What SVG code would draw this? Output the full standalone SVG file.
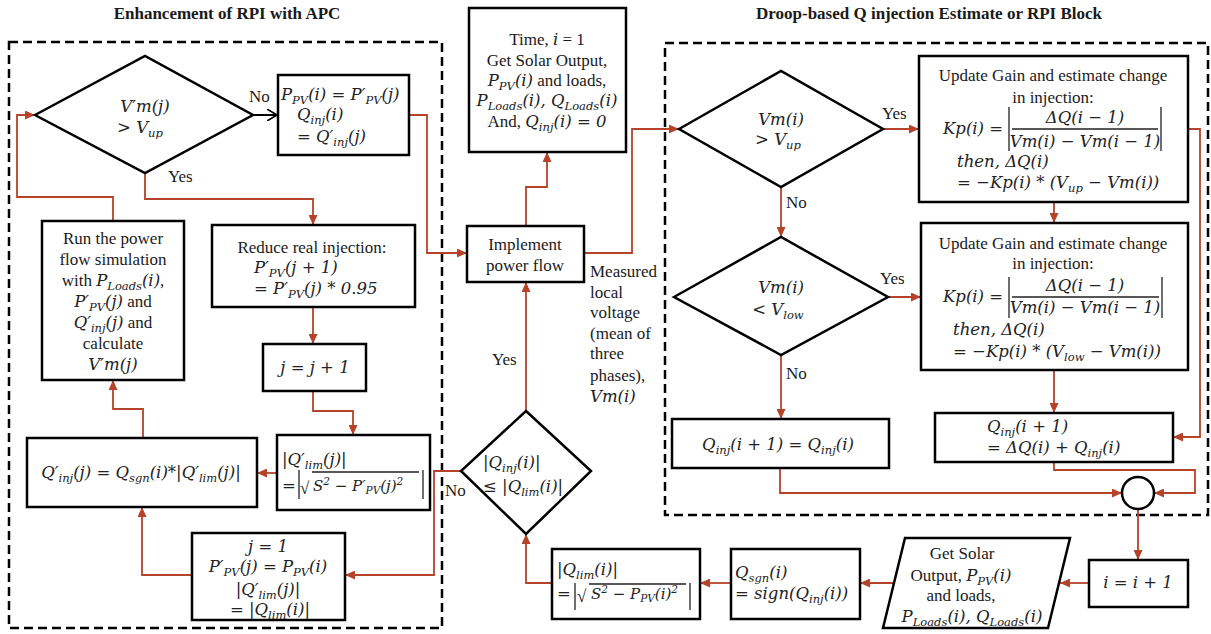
<svg xmlns="http://www.w3.org/2000/svg" width="1211" height="634" viewBox="0 0 1211 634">
<style>
  .tx { font-family: "Liberation Serif", "Times New Roman", serif; font-size: 17px; fill: #1a1a1a; }
  .tx .mt, .mt { font-family: "DejaVu Serif", "Liberation Serif", serif; font-style: italic; font-size: 16.5px; fill: #222; }
  .sb, .tx .sb { font-size: 11.5px; }
  .sm { font-size: 15px; }
  .sm .sb { font-size: 10.5px; }
  .mid { text-anchor: middle; }
  .ti { font-family: "Liberation Serif", "Times New Roman", serif; font-weight: bold; font-size: 17px; fill: #1a1a1a; text-anchor: middle; }
  .box { fill: #fff; stroke: #000; stroke-width: 2.5; }
  .grp { fill: none; stroke: #000; stroke-width: 2.5; stroke-dasharray: 9 5; }
  .ln { fill: none; stroke: #222; stroke-width: 1.3; }
  .ca { fill: none; stroke: #b5432a; stroke-width: 1.8; marker-end: url(#ah); }
</style>
<defs>
  <marker id="ah" viewBox="0 0 10 9" refX="10" refY="4.5" markerWidth="11" markerHeight="9" markerUnits="userSpaceOnUse" orient="auto">
    <path d="M0,0 L10,4.5 L0,9 z" fill="#b5432a"/>
  </marker>
  <marker id="open" viewBox="0 0 10 12" refX="10" refY="6" markerWidth="10" markerHeight="12" markerUnits="userSpaceOnUse" orient="auto">
    <path d="M0,0 L10,6 L0,12" fill="none" stroke="#000" stroke-width="1.6"/>
  </marker>
</defs>
<rect width="1211" height="634" fill="#fff"/>

<!-- block titles and dashed group frames -->
<g id="groups">
  <text class="ti" x="227" y="19">Enhancement of RPI with APC</text>
  <text class="ti" x="929" y="19">Droop-based Q injection Estimate or RPI Block</text>
  <rect class="grp" x="9" y="42" width="433" height="586"/>
  <rect class="grp" x="665" y="43" width="543" height="472"/>
</g>

<!-- connectors -->
<g id="connectors">
  <path d="M253,115 H277" fill="none" stroke="#000" stroke-width="2" marker-end="url(#open)"/>
  <path class="ca" d="M145,173 V199 H313 V225"/>
  <path class="ca" d="M409,115 H427 V253 H467"/>
  <path class="ca" d="M113,221 V197 H17 V115 H35"/>
  <path class="ca" d="M313,307 V344"/>
  <path class="ca" d="M313,391 V411 H353 V435"/>
  <path class="ca" d="M277,473 H257"/>
  <path class="ca" d="M143,438 V409 H113 V380"/>
  <path class="ca" d="M192,575 H142 V507"/>
  <path class="ca" d="M461,471 H434 V575 H345"/>
  <path class="ca" d="M526,411 V282"/>
  <path class="ca" d="M526,226 V187 H547 V152"/>
  <path class="ca" d="M584,253 H632 V129 H679"/>
  <path class="ca" d="M883,129 H919"/>
  <path class="ca" d="M781,187 V237"/>
  <path class="ca" d="M1054,202 V223"/>
  <path class="ca" d="M1188,129 H1200 V437 H1173"/>
  <path class="ca" d="M888,297 H921"/>
  <path class="ca" d="M781,355 V419"/>
  <path class="ca" d="M1054,370 V413"/>
  <path class="ca" d="M780,468 V493 H1122"/>
  <path class="ca" d="M1054,462 V470 H1195 V493 H1154"/>
  <path class="ca" d="M1138,509 V560"/>
  <path class="ca" d="M1089,583 H1060"/>
  <path class="ca" d="M894,583 H860"/>
  <path class="ca" d="M731,583 H700"/>
  <path class="ca" d="M552,583 H526 V534"/>
</g>

<!-- APC decision: V'm(j) > Vup -->
<g id="apc-check">
  <polygon class="box" points="35,115 145,56 253,115 145,173"/>
  <text class="mt mid" x="145" y="112">V′m(j)</text>
  <text class="mt mid" x="140" y="133">&gt; V<tspan class="sb" dy="3.5">up</tspan></text>
  <text class="tx" x="249" y="102">No</text>
  <text class="tx" x="168" y="182">Yes</text>
</g>

<g id="apc-accept">
  <rect class="box" x="278" y="75" width="131" height="80"/>
  <text class="mt" x="281" y="100">P<tspan class="sb" dy="3.5">PV</tspan><tspan dy="-3.5">(i) = P′</tspan><tspan class="sb" dy="3.5">PV</tspan><tspan dy="-3.5">(j)</tspan></text>
  <text class="mt" x="297" y="120">Q<tspan class="sb" dy="3.5">inj</tspan><tspan dy="-3.5">(i)</tspan></text>
  <text class="mt" x="297" y="142">= Q′<tspan class="sb" dy="3.5">inj</tspan><tspan dy="-3.5">(j)</tspan></text>
</g>

<g id="apc-run">
  <rect class="box" x="42" y="221" width="142" height="159"/>
  <text class="tx mid" x="113" y="244">Run the power</text>
  <text class="tx mid" x="113" y="265">flow simulation</text>
  <text class="tx mid" x="113" y="286">with <tspan class="mt">P</tspan><tspan class="mt sb" dy="3.5">Loads</tspan><tspan class="mt" dy="-3.5">(i)</tspan>,</text>
  <text class="tx mid" x="113" y="307"><tspan class="mt">P′</tspan><tspan class="mt sb" dy="3.5">PV</tspan><tspan class="mt" dy="-3.5">(j)</tspan> and</text>
  <text class="tx mid" x="113" y="328"><tspan class="mt">Q′</tspan><tspan class="mt sb" dy="3.5">inj</tspan><tspan class="mt" dy="-3.5">(j)</tspan> and</text>
  <text class="tx mid" x="113" y="349">calculate</text>
  <text class="mt mid" x="113" y="370">V′m(j)</text>
</g>

<g id="apc-reduce">
  <rect class="box" x="212" y="225" width="203" height="82"/>
  <text class="tx mid" x="312" y="253">Reduce real injection:</text>
  <text class="mt" x="254" y="273">P′<tspan class="sb" dy="3.5">PV</tspan><tspan dy="-3.5">(j + 1)</tspan></text>
  <text class="mt" x="254" y="294">= P′<tspan class="sb" dy="3.5">PV</tspan><tspan dy="-3.5">(j) * 0.95</tspan></text>
</g>

<g id="apc-step">
  <rect class="box" x="263" y="344" width="103" height="47"/>
  <text class="mt mid" x="315" y="373">j = j + 1</text>
</g>

<g id="apc-qlim">
  <rect class="box" x="277" y="435" width="153" height="75"/>
  <text class="mt" x="282" y="465">|Q′<tspan class="sb" dy="3.5">lim</tspan><tspan dy="-3.5">(j)|</tspan></text>
  <text class="mt" x="282" y="491">=</text>
  <path class="ln" d="M299,470 V499 M423,470 V499 M312,472 H419"/>
  <text class="tx" x="300" y="494" font-size="20">√</text>
  <text class="mt sm" x="313" y="491">S<tspan class="sb" dy="-6">2</tspan><tspan dy="6"> − P′</tspan><tspan class="sb" dy="3">PV</tspan><tspan dy="-3">(j)</tspan><tspan class="sb" dy="-6">2</tspan></text>
</g>

<g id="apc-qinj">
  <rect class="box" x="27" y="438" width="230" height="69"/>
  <text class="mt mid" x="141" y="478">Q′<tspan class="sb" dy="3.5">inj</tspan><tspan dy="-3.5">(j) = Q</tspan><tspan class="sb" dy="3.5">sgn</tspan><tspan dy="-3.5">(i)*|Q′</tspan><tspan class="sb" dy="3.5">lim</tspan><tspan dy="-3.5">(j)|</tspan></text>
</g>

<g id="apc-init">
  <rect class="box" x="192" y="533" width="153" height="87"/>
  <text class="mt mid" x="268" y="552">j = 1</text>
  <text class="mt mid" x="268" y="572">P′<tspan class="sb" dy="3.5">PV</tspan><tspan dy="-3.5">(j) = P</tspan><tspan class="sb" dy="3.5">PV</tspan><tspan dy="-3.5">(i)</tspan></text>
  <text class="mt mid" x="268" y="595">|Q′<tspan class="sb" dy="3.5">lim</tspan><tspan dy="-3.5">(j)|</tspan></text>
  <text class="mt mid" x="270" y="615">= |Q<tspan class="sb" dy="3.5">lim</tspan><tspan dy="-3.5">(i)|</tspan></text>
</g>

<!-- main loop -->
<g id="start">
  <rect class="box" x="469" y="8" width="157" height="144"/>
  <text class="tx mid" x="547" y="45">Time, <tspan class="mt">i</tspan> = 1</text>
  <text class="tx mid" x="547" y="66">Get Solar Output,</text>
  <text class="tx mid" x="547" y="86"><tspan class="mt">P</tspan><tspan class="mt sb" dy="3.5">PV</tspan><tspan class="mt" dy="-3.5">(i)</tspan> and loads,</text>
  <text class="mt mid" x="547" y="106">P<tspan class="sb" dy="3.5">Loads</tspan><tspan dy="-3.5">(i), Q</tspan><tspan class="sb" dy="3.5">Loads</tspan><tspan dy="-3.5">(i)</tspan></text>
  <text class="tx mid" x="547" y="127">And, <tspan class="mt">Q</tspan><tspan class="mt sb" dy="3.5">inj</tspan><tspan class="mt" dy="-3.5">(i) = 0</tspan></text>
</g>

<g id="power-flow">
  <rect class="box" x="467" y="226" width="117" height="56"/>
  <text class="tx mid" x="525" y="250">Implement</text>
  <text class="tx mid" x="525" y="271">power flow</text>
</g>

<g id="measured-note">
  <text class="tx" x="590" y="277">Measured</text>
  <text class="tx" x="590" y="298">local</text>
  <text class="tx" x="590" y="318">voltage</text>
  <text class="tx" x="590" y="339">(mean of</text>
  <text class="tx" x="590" y="359">three</text>
  <text class="tx" x="590" y="381">phases),</text>
  <text class="mt" x="590" y="402">Vm(i)</text>
</g>

<g id="limit-check">
  <polygon class="box" points="526,411 591,471 526,534 461,471"/>
  <text class="mt" x="483" y="468">|Q<tspan class="sb" dy="3.5">inj</tspan><tspan dy="-3.5">(i)|</tspan></text>
  <text class="mt" x="483" y="492">≤ |Q<tspan class="sb" dy="3.5">lim</tspan><tspan dy="-3.5">(i)|</tspan></text>
  <text class="tx" x="445" y="496">No</text>
  <text class="tx" x="492" y="365">Yes</text>
</g>

<g id="limit-calc">
  <rect class="box" x="552" y="549" width="148" height="70"/>
  <text class="mt" x="557" y="575">|Q<tspan class="sb" dy="3.5">lim</tspan><tspan dy="-3.5">(i)|</tspan></text>
  <text class="mt" x="557" y="599">=</text>
  <path class="ln" d="M575,583 V610 M690,583 V610 M589,584 H686"/>
  <text class="tx" x="577" y="602" font-size="20">√</text>
  <text class="mt sm" x="591" y="599">S<tspan class="sb" dy="-6">2</tspan><tspan dy="6"> − P</tspan><tspan class="sb" dy="3">PV</tspan><tspan dy="-3">(i)</tspan><tspan class="sb" dy="-6">2</tspan></text>
</g>

<g id="sign-calc">
  <rect class="box" x="731" y="549" width="129" height="70"/>
  <text class="mt" x="735" y="578">Q<tspan class="sb" dy="3.5">sgn</tspan><tspan dy="-3.5">(i)</tspan></text>
  <text class="mt" x="735" y="599">= sign(Q<tspan class="sb" dy="3.5">inj</tspan><tspan dy="-3.5">(i))</tspan></text>
</g>

<g id="read-input">
  <polygon class="box" points="905,538 1070,538 1048,628 883,628"/>
  <text class="tx mid" x="962" y="559">Get Solar</text>
  <text class="tx mid" x="961" y="581">Output, <tspan class="mt">P</tspan><tspan class="mt sb" dy="3.5">PV</tspan><tspan class="mt" dy="-3.5">(i)</tspan></text>
  <text class="tx mid" x="961" y="601">and loads,</text>
  <text class="mt mid" x="972" y="622">P<tspan class="sb" dy="3.5">Loads</tspan><tspan dy="-3.5">(i), Q</tspan><tspan class="sb" dy="3.5">Loads</tspan><tspan dy="-3.5">(i)</tspan></text>
</g>

<g id="time-step">
  <rect class="box" x="1089" y="560" width="99" height="47"/>
  <text class="mt mid" x="1138" y="588">i = i + 1</text>
</g>

<!-- droop-based RPI block -->
<g id="over-check">
  <polygon class="box" points="679,129 781,71 883,129 781,187"/>
  <text class="mt mid" x="781" y="125">Vm(i)</text>
  <text class="mt mid" x="778" y="145">&gt; V<tspan class="sb" dy="3.5">up</tspan></text>
  <text class="tx" x="882" y="119">Yes</text>
  <text class="tx" x="786" y="208">No</text>
</g>

<g id="over-gain">
  <rect class="box" x="919" y="56" width="269" height="146"/>
  <text class="tx mid" x="1053" y="81">Update Gain and estimate change</text>
  <text class="tx mid" x="1053" y="103">in injection:</text>
  <text class="mt" x="943" y="134">Kp(i) =</text>
  <path class="ln" d="M1009,107 V151 M1161,107 V151 M1012,129 H1158"/>
  <text class="mt mid" x="1085" y="123">ΔQ(i − 1)</text>
  <text class="mt mid" x="1085" y="147">Vm(i) − Vm(i − 1)</text>
  <text class="mt" x="957" y="167">then, ΔQ(i)</text>
  <text class="mt" x="957" y="188">= −Kp(i) * (V<tspan class="sb" dy="3.5">up</tspan><tspan dy="-3.5"> − Vm(i))</tspan></text>
</g>

<g id="under-check">
  <polygon class="box" points="674,297 781,237 888,297 781,355"/>
  <text class="mt mid" x="781" y="293">Vm(i)</text>
  <text class="mt mid" x="778" y="315">&lt; V<tspan class="sb" dy="3.5">low</tspan></text>
  <text class="tx" x="880" y="284">Yes</text>
  <text class="tx" x="786" y="379">No</text>
</g>

<g id="under-gain">
  <rect class="box" x="921" y="223" width="267" height="147"/>
  <text class="tx mid" x="1053" y="249">Update Gain and estimate change</text>
  <text class="tx mid" x="1053" y="269">in injection:</text>
  <text class="mt" x="943" y="302">Kp(i) =</text>
  <path class="ln" d="M1009,277 V318 M1162,277 V318 M1012,297 H1159"/>
  <text class="mt mid" x="1085" y="291">ΔQ(i − 1)</text>
  <text class="mt mid" x="1085" y="313">Vm(i) − Vm(i − 1)</text>
  <text class="mt" x="953" y="335">then, ΔQ(i)</text>
  <text class="mt" x="953" y="357">= −Kp(i) * (V<tspan class="sb" dy="3.5">low</tspan><tspan dy="-3.5"> − Vm(i))</tspan></text>
</g>

<g id="hold-q">
  <rect class="box" x="672" y="419" width="217" height="49"/>
  <text class="mt mid" x="778" y="450">Q<tspan class="sb" dy="3.5">inj</tspan><tspan dy="-3.5">(i + 1) = Q</tspan><tspan class="sb" dy="3.5">inj</tspan><tspan dy="-3.5">(i)</tspan></text>
</g>

<g id="update-q">
  <rect class="box" x="935" y="413" width="238" height="49"/>
  <text class="mt" x="987" y="432">Q<tspan class="sb" dy="3.5">inj</tspan><tspan dy="-3.5">(i + 1)</tspan></text>
  <text class="mt" x="987" y="453">= ΔQ(i) + Q<tspan class="sb" dy="3.5">inj</tspan><tspan dy="-3.5">(i)</tspan></text>
</g>

<g id="merge">
  <circle class="box" cx="1138" cy="493" r="16"/>
</g>
</svg>
